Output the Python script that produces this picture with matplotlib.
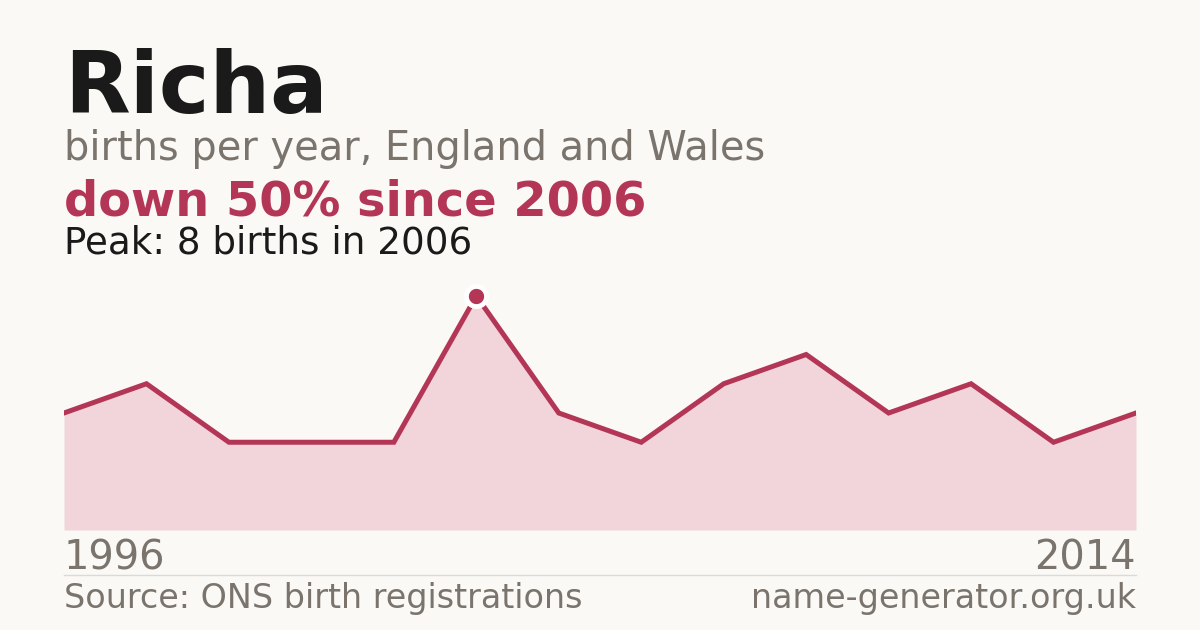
import matplotlib
matplotlib.use("Agg")
import matplotlib.pyplot as plt

plt.rcParams["font.family"] = ["DejaVu Sans"]

# births per year (index positions along the x axis, first and last years labelled)
years = [1996, 1998, 2000, 2002, 2004, 2006, 2007, 2008, 2009, 2010, 2011, 2012, 2013, 2014]
births = [4, 5, 3, 3, 3, 8, 4, 3, 5, 6, 4, 5, 3, 4]
peak_idx = births.index(max(births))

name = "Richa"
subtitle = "births per year, England and Wales"
change_text = "down 50% since 2006"
peak_text = "Peak: 8 births in 2006"
source_text = "Source: ONS birth registrations"
site_text = "name-generator.org.uk"

BG = "#faf9f5"
RED = "#b33657"
FILL = "#f1d5da"
GREY = "#7a746d"
DARK = "#1a1a1a"

W, H = 1200, 630
fig = plt.figure(figsize=(12, 6.3), dpi=100, facecolor=BG)

def fy(py):
    return 1 - py / H

def fx(px):
    return px / W

# header texts (baseline positions in px)
fig.text(fx(64), fy(113), name, fontsize=61.5, fontweight="bold", color=DARK, va="baseline")
fig.text(fx(64), fy(160), subtitle, fontsize=28.75, color=GREY, va="baseline")
fig.text(fx(64), fy(215), change_text, fontsize=34.5, fontweight="bold", color=RED, va="baseline")
fig.text(fx(64), fy(253), peak_text, fontsize=26.8, color=DARK, va="baseline")

# chart area
top_px, bot_px = 270, 530
ax = fig.add_axes([fx(64), fy(bot_px), fx(1136) - fx(64), (bot_px - top_px) / H])
ax.set_facecolor(BG)
xs = list(range(len(births)))
ymax = max(births) * (bot_px - top_px) / (bot_px - 296)
ax.fill_between(xs, births, 0, color=FILL, linewidth=0)
ax.plot(xs, births, color=RED, linewidth=3.6, solid_joinstyle="miter")
ax.plot([peak_idx], [births[peak_idx]], "o", markersize=14.5, color=RED,
        markeredgecolor="white", markeredgewidth=3.5, clip_on=False, zorder=5)
ax.set_xlim(0, len(births) - 1)
ax.set_ylim(0, ymax)
ax.axis("off")

# footer
fig.text(fx(64), fy(570), str(years[0]), fontsize=28.7, color=GREY, va="baseline")
fig.text(fx(1136), fy(570), str(years[-1]), fontsize=28.7, color=GREY, va="baseline", ha="right")
fig.add_artist(plt.Line2D([fx(64), fx(1136)], [fy(574.5), fy(574.5)], color="#dddad4", linewidth=1))
fig.text(fx(64), fy(608), source_text, fontsize=24, color=GREY, va="baseline")
fig.text(fx(1136), fy(608), site_text, fontsize=24, color=GREY, va="baseline", ha="right")

fig.savefig("out.png", dpi=100, facecolor=BG)
